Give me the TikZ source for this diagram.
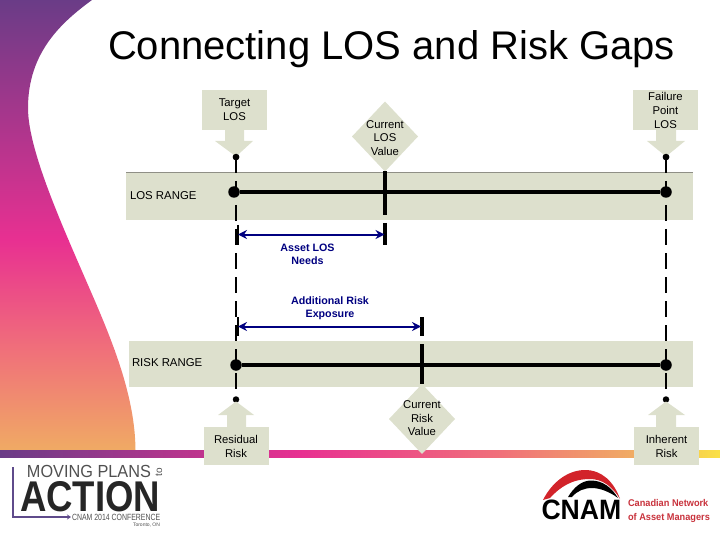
\documentclass[tikz,border=0pt]{standalone}
\usepackage{fontspec}
\usepackage{graphicx}
\setmainfont{Liberation Sans}
\usetikzlibrary{shapes.geometric,arrows.meta}
\definecolor{c6a3c87}{RGB}{106,60,135}
\definecolor{ce83091}{RGB}{232,48,145}
\definecolor{cf0707a}{RGB}{240,112,122}
\definecolor{cf0aa64}{RGB}{240,170,100}
\definecolor{cfae146}{RGB}{250,225,70}
\definecolor{cdde0cd}{RGB}{221,224,205}
\definecolor{c8f8f86}{RGB}{143,143,134}
\definecolor{c000080}{RGB}{0,0,128}
\definecolor{c5f4b8b}{RGB}{95,75,139}
\definecolor{c505050}{RGB}{80,80,80}
\definecolor{cc8323c}{RGB}{200,50,60}
\definecolor{cd2232a}{RGB}{210,35,42}
\tikzset{
  markerbox/.style={fill=cdde0cd,minimum width=65pt,align=center,
    font=\fontsize{11.3}{14}\selectfont},
  markerdiamond/.style={diamond,fill=cdde0cd,minimum width=66pt,minimum height=70pt},
  diamondlabel/.style={align=center,font=\fontsize{11.3}{13.5}\selectfont},
  markerarrow/.style={fill=cdde0cd},
  rangelabel/.style={anchor=west,font=\fontsize{11.4}{12}\selectfont},
  gaplabel/.style={align=center,text=c000080,font=\bfseries\fontsize{10.7}{13.2}\selectfont},
  enddot/.style={circle,fill=black,minimum size=11.5pt},
  smalldot/.style={circle,fill=black,minimum size=6.5pt},
  rangeline/.style={draw=black,line width=4pt},
  valueline/.style={draw=black,line width=3.6pt},
  limitline/.style={draw=black,line width=2.4pt,dash pattern=on 16pt off 8pt},
  gaparrow/.style={draw=c000080,line width=2pt,{Stealth[length=9pt,width=9pt]}-{Stealth[length=9pt,width=9pt]}}
}
\begin{document}
\begin{tikzpicture}[y=1pt, x=1pt,yscale=-1, inner sep=0pt, outer sep=0pt]
\useasboundingbox (0,0) rectangle (720,540);
  % side wave
  \begin{scope}
    \clip (0,0) -- (92,0) .. controls (62,22) and (28,52) .. (28,108) ..
      controls (28,150) and (62,225) .. (88,285) .. controls (112,340) and (135,395) ..
      (135.5,450) -- (0,450) -- cycle;
    \shade[top color=c6a3c87,bottom color=ce83091] (0,0) rectangle (140,240);
    \shade[top color=ce83091,bottom color=cf0707a] (0,240) rectangle (140,350);
    \shade[top color=cf0707a,bottom color=cf0aa64] (0,350) rectangle (140,450);
  \end{scope}
  % strip
  \shade[left color=c6a3c87,right color=ce83091] (0,450) rectangle (300,457);
  \shade[left color=ce83091,right color=cf0707a] (300,450) rectangle (500,457);
  \shade[left color=cf0707a,right color=cf0aa64] (500,450) rectangle (630,457);
  \shade[left color=cf0aa64,right color=cfae146] (630,450) rectangle (720,457);

  \node[font=\fontsize{40}{44}\selectfont] (title) at (391.5,49.5) {Connecting LOS and Risk Gaps};

  % range bands
  \path[fill=cdde0cd] (126,172) rectangle (693,220);
  \path[draw=c8f8f86,line width=0.8pt] (126,172) -- (693,172);
  \path[fill=cdde0cd] (129,341) rectangle (693,387);
  \node[rangelabel] (loslabel) at (130,196) {LOS RANGE};
  \node[rangelabel] (risklabel) at (132,363) {RISK RANGE};

  % limit lines
  \node[smalldot] (targetdot) at (236,157) {};
  \node[smalldot] (failuredot) at (666,157) {};
  \node[smalldot] (residualdot) at (236,399.5) {};
  \node[smalldot] (inherentdot) at (666,399.5) {};
  \path[limitline] (targetdot.center) -- (residualdot.center);
  \path[limitline] (failuredot.center) -- (inherentdot.center);

  % target and failure markers
  \path[markerarrow] (225,125) -- (244,125) -- (244,141) -- (253,141) -- (236,156.5) -- (215,141) -- (225,141) -- cycle;
  \path[markerarrow] (656,125) -- (676,125) -- (676,141) -- (685,141) -- (666,156.5) -- (647,141) -- (656,141) -- cycle;
  \node[smalldot] at (targetdot) {};
  \node[smalldot] at (failuredot) {};
  \node[markerbox,minimum height=40pt] (target) at (234.5,110) {Target\\LOS};
  \node[markerbox,minimum height=40pt] (failure) at (665.5,110) {Failure\\Point\\LOS};

  % residual and inherent markers
  \path[markerarrow] (227,430) -- (246,430) -- (246,415) -- (254,415) -- (236,401.5) -- (218,415) -- (227,415) -- cycle;
  \path[markerarrow] (656,430) -- (676,430) -- (676,415) -- (685,415) -- (666,401.5) -- (648,415) -- (656,415) -- cycle;
  \node[markerbox,minimum height=38pt] (residual) at (236,446) {Residual\\Risk};
  \node[markerbox,minimum height=38pt] (inherent) at (666.5,446) {Inherent\\Risk};

  % current values
  \node[markerdiamond] (curlos) at (385,136.5) {};
  \node[markerdiamond] (currisk) at (422,419) {};
  \node[diamondlabel] (curloslabel) at (385,138) {Current\\LOS\\Value};
  \node[diamondlabel] (currisklabel) at (422,418.5) {Current\\Risk\\Value};

  % ranges
  \node[enddot] (losmin) at (234,192) {};
  \node[enddot] (losmax) at (666,192) {};
  \node[enddot] (riskmin) at (236,365) {};
  \node[enddot] (riskmax) at (666,365) {};
  \path[rangeline] (losmin) -- (losmax);
  \path[rangeline] (riskmin) -- (riskmax);

  % value ticks
  \coordinate (losgap) at (384.5,234.5);
  \coordinate (riskgap) at (421,326.5);
  \path[valueline] (curlos.south) -- (385,215);
  \path[valueline] (385,223) -- (385,245);
  \path[valueline] (422,317) -- (422,336);
  \path[valueline] (422,344) -- (currisk.north);
  \path[draw=black,line width=2pt] (238,225) -- (238,245);
  \path[draw=black,line width=2pt] (238,317) -- (238,336);

  % gaps
  \coordinate (losstart) at (238,234.5);
  \coordinate (riskstart) at (238,326.5);
  \path[gaparrow] (losstart) -- (losgap);
  \path[gaparrow] (riskstart) -- (riskgap);
  \node[gaplabel] (assetneeds) at (307.5,254) {Asset LOS\\Needs};
  \node[gaplabel] (addexposure) at (330,308.5) {Additional Risk\\Exposure};

  % conference logo
  \coordinate (logotop) at (13,467);
  \coordinate (logocorner) at (13,517);
  \coordinate (logoend) at (71,517);
  \path[draw=c5f4b8b,line width=1.3pt,-{Stealth[length=4pt,width=5pt]}] (logotop) -- (logocorner) -- (logoend);
  \node[anchor=west,text=c505050,font=\fontsize{17.5}{18}\selectfont] (moving) at (27,471) {\scalebox{.93}[1]{MOVING PLANS}};
  \node[rotate=90,text=c505050,font=\fontsize{10}{10}\selectfont] (movingto) at (159,472) {to};
  \node[anchor=west,text=black!85,font=\bfseries\fontsize{43}{44}\selectfont] (action) at (20,497) {\scalebox{.85}[1]{ACTION}};
  \node[anchor=west,text=c505050,font=\fontsize{9}{10}\selectfont] (conference) at (72,517.5) {\scalebox{.77}[1]{CNAM 2014 CONFERENCE}};
  \node[anchor=east,text=c505050,font=\fontsize{5}{6}\selectfont] (toronto) at (160,525.5) {Toronto, ON};

  % network logo
  \path[fill=cd2232a] (543,500) .. controls (552,482) and (568,470) .. (585,470) ..
    controls (602,470) and (614,482) .. (620,499) .. controls (612,486) and (602,479) .. (590,479) ..
    controls (572,479) and (560,487) .. (550,498) -- cycle;
  \path[fill=black] (568,497) .. controls (574,487) and (582,480.5) .. (591,480.5) ..
    controls (603,480.5) and (612,488) .. (618,498) .. controls (610,492) and (600,488) .. (592,488) ..
    controls (584,488) and (577,491) .. (572,497) -- cycle;
  \node[anchor=west,font=\bfseries\fontsize{28}{29}\selectfont] (cnam) at (541.5,510) {\scalebox{.95}[1]{CNAM}};
  \node[anchor=west,text=cc8323c,align=left,font=\bfseries\fontsize{9.8}{13.5}\selectfont] (network) at (628,511) {\scalebox{.94}[1]{Canadian Network}\\\scalebox{.94}[1]{of Asset Managers}};
\end{tikzpicture}
\end{document}
